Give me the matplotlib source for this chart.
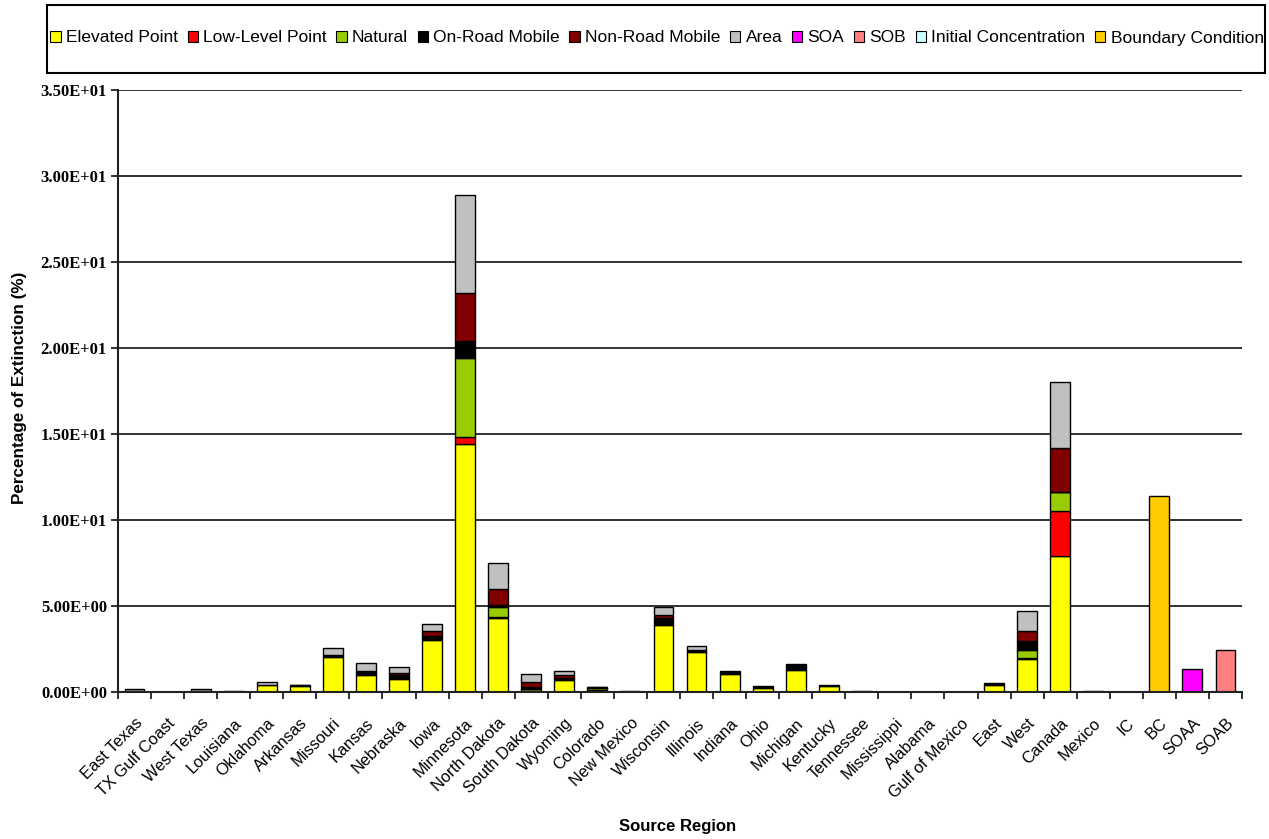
import numpy as np
import matplotlib
matplotlib.use("Agg")
import matplotlib.pyplot as plt
from matplotlib.patches import Rectangle, Patch

regions = ["East Texas", "TX Gulf Coast", "West Texas", "Louisiana", "Oklahoma", "Arkansas",
           "Missouri", "Kansas", "Nebraska", "Iowa", "Minnesota", "North Dakota", "South Dakota",
           "Wyoming", "Colorado", "New Mexico", "Wisconsin", "Illinois", "Indiana", "Ohio",
           "Michigan", "Kentucky", "Tennessee", "Mississippi", "Alabama", "Gulf of Mexico",
           "East", "West", "Canada", "Mexico", "IC", "BC", "SOAA", "SOAB"]

elevated_point = [0, 0, 0, 0, 0.42, 0.32, 2.05, 1.0, 0.77, 3.05, 14.4, 4.3, 0.05, 0.7, 0.12, 0,
                  3.9, 2.35, 1.05, 0.25, 1.3, 0.35, 0, 0, 0, 0, 0.42, 1.9, 7.9, 0, 0, 0, 0, 0]
low_level_point = [0, 0, 0, 0, 0, 0, 0, 0, 0, 0, 0.4, 0.08, 0, 0, 0, 0,
                   0, 0, 0, 0, 0, 0, 0, 0, 0, 0, 0, 0.05, 2.65, 0, 0, 0, 0, 0]
natural = [0.08, 0, 0.08, 0, 0, 0, 0, 0, 0, 0, 4.6, 0.55, 0.1, 0, 0.1, 0,
           0, 0, 0, 0, 0, 0, 0, 0, 0, 0, 0, 0.5, 1.05, 0, 0, 0, 0, 0]
on_road_mobile = [0, 0, 0, 0.05, 0, 0.06, 0.1, 0.15, 0.2, 0.2, 1.0, 0.1, 0.15, 0.1, 0.06, 0.08,
                  0.4, 0.12, 0.2, 0.12, 0.3, 0.03, 0.08, 0, 0, 0, 0.08, 0.5, 0.05, 0.08, 0, 0, 0, 0]
non_road_mobile = [0, 0, 0, 0, 0, 0, 0, 0.1, 0.15, 0.3, 2.8, 0.95, 0.3, 0.2, 0, 0,
                   0.2, 0, 0, 0, 0, 0, 0, 0, 0, 0, 0, 0.6, 2.55, 0, 0, 0, 0, 0]
area = [0.09, 0, 0.09, 0, 0.18, 0.05, 0.4, 0.43, 0.31, 0.42, 5.7, 1.5, 0.45, 0.25, 0.03, 0,
        0.45, 0.18, 0, 0, 0, 0, 0, 0, 0, 0, 0, 1.15, 3.8, 0, 0, 0, 0, 0]
soa = [0] * 32 + [1.36, 0]
sob = [0] * 33 + [2.42]
initial_concentration = [0] * 34
boundary_condition = [0] * 31 + [11.4, 0, 0]

series_names = ["Elevated Point", "Low-Level Point", "Natural", "On-Road Mobile", "Non-Road Mobile",
                "Area", "SOA", "SOB", "Initial Concentration", "Boundary Condition"]
series_values = [elevated_point, low_level_point, natural, on_road_mobile, non_road_mobile,
                 area, soa, sob, initial_concentration, boundary_condition]
series_colors = ["#FFFF00", "#FF0000", "#99CC00", "#000000", "#800000",
                 "#C0C0C0", "#FF00FF", "#FF8080", "#CCFFFF", "#FFCC00"]

fig = plt.figure(figsize=(12.69, 8.39), dpi=100)
ax = fig.add_axes([118/1269, 1-692/839, (1242-118)/1269, (692-90)/839])

x = np.arange(len(regions))
bottom = np.zeros(len(regions))
for vals, col in zip(series_values, series_colors):
    v = np.array(vals, dtype=float)
    m = v > 0
    if m.any():
        ax.bar(x[m], v[m], bottom=bottom[m], width=0.6, color=col,
               edgecolor="black", linewidth=1.0, zorder=3)
    bottom += v

ax.set_xlim(-0.5, len(regions) - 0.5)
ax.set_ylim(0, 35)
yt = np.arange(0, 35.1, 5)
ax.set_yticks(yt)
ax.set_yticklabels([f"{v:.2E}" for v in yt], fontfamily="Liberation Serif",
                   fontweight="bold", fontsize=12)
for y in yt[1:]:
    ax.axhline(y, color="#222222", linewidth=1.3, zorder=1)

ax.set_xticks(x)
ax.set_xticklabels(regions, rotation=45, ha="right", rotation_mode="anchor",
                   fontfamily="Liberation Sans", fontsize=11.8)
ax.tick_params(axis="x", which="major", length=0, pad=17)
ax.set_xticks(np.arange(-0.5, len(regions), 1.0), minor=True)
ax.tick_params(axis="x", which="minor", length=5, width=1.3, direction="out", color="#222222")
ax.tick_params(axis="y", length=5, width=1.3, color="#222222", pad=3)

for s in ["top", "right"]:
    ax.spines[s].set_visible(False)
for s in ["left", "bottom"]:
    ax.spines[s].set_linewidth(1.5)
    ax.spines[s].set_color("#222222")
    ax.spines[s].set_zorder(4)

fig.text(20/1269, 1-388/839, "Percentage of Extinction (%)", rotation=90, ha="center", va="center",
         fontfamily="Liberation Sans", fontweight="bold", fontsize=12.3)
fig.text(678/1269, 1-826/839, "Source Region", ha="center", va="center",
         fontfamily="Liberation Sans", fontweight="bold", fontsize=12)

# legend box
fig.patches.append(Rectangle((47/1269, 1-73/839), 1218/1269, 68/839, transform=fig.transFigure,
                             fill=False, edgecolor="black", linewidth=1.5))
handles = [Patch(facecolor=c, edgecolor="black", linewidth=0.8) for c in series_colors]
leg = fig.legend(handles, series_names, loc="center", bbox_to_anchor=(657/1269, 1-38/839),
                 ncol=10, frameon=False, handlelength=0.6, handleheight=0.6,
                 handletextpad=0.3, columnspacing=0.55,
                 prop={"family": "Liberation Sans", "size": 12.5})

fig.savefig("out.png", dpi=100)
